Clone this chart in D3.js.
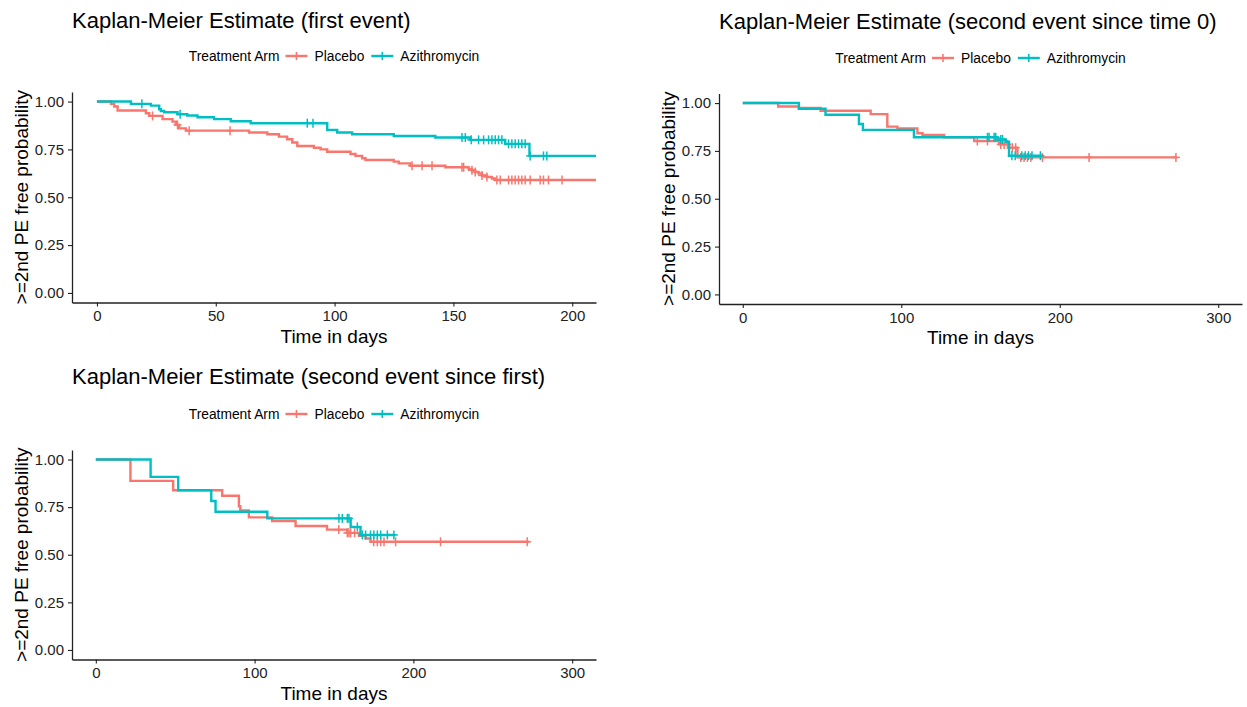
<!DOCTYPE html>
<html>
<head>
<meta charset="utf-8">
<script src="https://cdn.jsdelivr.net/npm/d3@7"></script>
<style>
  body { margin: 0; background: #fff; }
  text { font-family: "Liberation Sans", Arial, sans-serif; }
</style>
</head>
<body>
<div id="km-chart"></div>
<script>
var width = 1247;
var height = 707;

var arms = ['Placebo', 'Azithromycin'];
var armColors = ['#F8766D', '#00BFC4'];
var yTicks = [0, 0.25, 0.5, 0.75, 1];

// first event
var firstPlaceboTime = [0, 5.9, 7.3, 8.7, 20.6, 22, 27.6, 31.8, 33.2, 34.6, 37.4, 64, 71.7, 76.6, 80, 82.2, 84.3, 91.3, 94.1, 96.9, 106.7, 108.8, 111.6, 113, 124.9, 127, 131.9, 146.6, 156.4, 157.8, 159.2, 160.6, 162, 164.1, 166.2, 167.6];
var firstPlaceboSurv = [1, 0.988, 0.974, 0.953, 0.939, 0.925, 0.908, 0.895, 0.878, 0.86, 0.848, 0.838, 0.829, 0.817, 0.803, 0.786, 0.768, 0.759, 0.75, 0.738, 0.726, 0.716, 0.704, 0.695, 0.686, 0.677, 0.665, 0.657, 0.648, 0.641, 0.632, 0.624, 0.614, 0.606, 0.598, 0.59];
var firstPlaceboCensor = [23.4, 33.9, 38.8, 56, 132.6, 136.8, 141, 153.6, 154.3, 157.8, 159.2, 162, 164.1, 168.3, 169.7, 173.2, 174.6, 176, 177.4, 178.8, 180.2, 182.3, 186.5, 187.9, 190, 195.7];
var firstAzithroTime = [0, 14.3, 22.7, 26.2, 26.9, 28.3, 33.9, 38, 42.3, 49.3, 56.3, 64.7, 96.9, 101.1, 107.4, 124.9, 142.4, 157, 171.8, 182];
var firstAzithroSurv = [1, 0.988, 0.979, 0.96, 0.951, 0.944, 0.934, 0.927, 0.918, 0.908, 0.897, 0.887, 0.852, 0.838, 0.829, 0.82, 0.812, 0.8, 0.779, 0.716];
var firstAzithroCensor = [18.9, 35, 88.5, 90.9, 153.6, 155, 157.5, 160.6, 162.7, 164.8, 166.2, 167.6, 169, 170.4, 173.2, 174.6, 176, 177.4, 178.8, 180.2, 182.3, 187.9, 189.3];

// second event since time 0
var secondPlaceboTime = [0, 22.3, 35.4, 49.1, 80.7, 91.2, 97.6, 110.2, 113.4, 127.1, 146, 161.7, 168, 173.3];
var secondPlaceboSurv = [1, 0.982, 0.975, 0.96, 0.942, 0.877, 0.868, 0.842, 0.833, 0.821, 0.802, 0.784, 0.767, 0.716];
var secondPlaceboCensor = [148, 154.4, 162.8, 164.9, 167, 170.1, 172.2, 175.4, 177.5, 179.6, 181.7, 189.1, 218.5, 273.3];
var secondAzithroTime = [0, 35.4, 52.2, 73.3, 75.8, 108, 160.7, 165.9, 168];
var secondAzithroSurv = [1, 0.97, 0.939, 0.891, 0.86, 0.821, 0.81, 0.798, 0.725];
var secondAzithroCensor = [154.4, 155.4, 158.6, 159.6, 162.8, 163.9, 169.8, 171.9, 176.1, 178.2, 180.3, 182.5, 187.8];

// second event since first
var sinceFirstPlaceboTime = [0, 21.8, 48.7, 79.6, 90.1, 91, 96.4, 111, 125.8, 145.6, 158.4, 165.7, 169.9, 173];
var sinceFirstPlaceboSurv = [1, 0.888, 0.839, 0.81, 0.755, 0.733, 0.696, 0.677, 0.651, 0.632, 0.615, 0.6, 0.585, 0.568];
var sinceFirstPlaceboCensor = [153, 158.4, 159.4, 160.5, 163, 175, 177.3, 179.4, 181.5, 188.8, 217.1, 271.7];
var sinceFirstAzithroTime = [0, 34.5, 51.9, 72.7, 75.4, 108, 160.5, 166.7];
var sinceFirstAzithroSurv = [1, 0.909, 0.839, 0.782, 0.726, 0.691, 0.646, 0.604];
var sinceFirstAzithroCensor = [153.1, 155.2, 158.4, 159.4, 164.7, 167.8, 169.9, 173, 175.1, 177.3, 179.4, 183.6, 187.7];

var panels = [
  {
    title: 'Kaplan-Meier Estimate (first event)',
    xDomain: [-10.5, 210], xTicks: [0, 50, 100, 150, 200],
    box: {left: 72, right: 596, top: 92, bottom: 302.5},
    titleY: 28, legendY: 56,
    curves: [
      {time: firstPlaceboTime, surv: firstPlaceboSurv, censor: firstPlaceboCensor, end: 210},
      {time: firstAzithroTime, surv: firstAzithroSurv, censor: firstAzithroCensor, end: 210}
    ]
  },
  {
    title: 'Kaplan-Meier Estimate (second event since time 0)',
    xDomain: [-15, 315], xTicks: [0, 100, 200, 300],
    box: {left: 719, right: 1242, top: 93.5, bottom: 304},
    titleY: 29, legendY: 58,
    curves: [
      {time: secondPlaceboTime, surv: secondPlaceboSurv, censor: secondPlaceboCensor, end: 274},
      {time: secondAzithroTime, surv: secondAzithroSurv, censor: secondAzithroCensor, end: 189}
    ]
  },
  {
    title: 'Kaplan-Meier Estimate (second event since first)',
    xDomain: [-15, 315], xTicks: [0, 100, 200, 300],
    box: {left: 72, right: 596, top: 450, bottom: 659.5},
    titleY: 384, legendY: 414,
    curves: [
      {time: sinceFirstPlaceboTime, surv: sinceFirstPlaceboSurv, censor: sinceFirstPlaceboCensor, end: 272.7},
      {time: sinceFirstAzithroTime, surv: sinceFirstAzithroSurv, censor: sinceFirstAzithroCensor, end: 188.8}
    ]
  }
];

var svg = d3.select('#km-chart').append('svg')
  .attr('width', width)
  .attr('height', height);

function survAt(c, t) {
  var i = d3.bisectRight(c.time, t) - 1;
  return c.surv[Math.max(0, i)];
}

panels.forEach(function(p) {
  var b = p.box;
  var x = d3.scaleLinear().domain(p.xDomain).range([b.left, b.right]);
  var y = d3.scaleLinear().domain([-0.05, 1.05]).range([b.bottom, b.top]);
  var g = svg.append('g');

  // title
  g.append('text')
    .attr('x', b.left)
    .attr('y', p.titleY)
    .style('font-size', '22px')
    .attr('fill', '#000')
    .text(p.title);

  // legend, centred over the plot area
  var leg = g.append('g');
  var cx = 0;
  var lt = leg.append('text').attr('x', cx).attr('y', 0).attr('dy', '0.35em')
    .style('font-size', '13.8px').attr('fill', '#000').text('Treatment Arm');
  cx += lt.node().getComputedTextLength() + 6;
  arms.forEach(function(a, i) {
    leg.append('line').attr('x1', cx).attr('x2', cx + 22).attr('y1', 0).attr('y2', 0)
      .attr('stroke', armColors[i]).attr('stroke-width', 2.4);
    leg.append('line').attr('x1', cx + 11).attr('x2', cx + 11).attr('y1', -4).attr('y2', 4)
      .attr('stroke', armColors[i]).attr('stroke-width', 1.6);
    cx += 29;
    var t = leg.append('text').attr('x', cx).attr('y', 0).attr('dy', '0.35em')
      .style('font-size', '13.8px').attr('fill', '#000').text(a);
    cx += t.node().getComputedTextLength() + 7;
  });
  cx -= 7;
  leg.attr('transform', 'translate(' + ((b.left + b.right) / 2 - cx / 2) + ',' + p.legendY + ')');

  // step curves
  var line = d3.line()
    .x(function(d) { return x(d[0]); })
    .y(function(d) { return y(d[1]); })
    .curve(d3.curveStepAfter);

  p.curves.forEach(function(c, i) {
    var pts = c.time.map(function(t, k) { return [t, c.surv[k]]; });
    pts.push([c.end, c.surv[c.surv.length - 1]]);
    g.append('path')
      .attr('d', line(pts))
      .attr('fill', 'none')
      .attr('stroke', armColors[i])
      .attr('stroke-width', 2.4);

    // censor "+" marks
    var marks = g.append('g').selectAll('g')
      .data(c.censor)
      .enter().append('g')
        .attr('transform', function(t) { return 'translate(' + x(t) + ',' + y(survAt(c, t)) + ')'; });
    marks.append('line').attr('y1', -4.5).attr('y2', 4.5)
      .attr('stroke', armColors[i]).attr('stroke-width', 1.5);
    marks.append('line').attr('x1', -4).attr('x2', 4)
      .attr('stroke', armColors[i]).attr('stroke-width', 1.5);
  });

  // axes
  var xAxis = g.append('g')
    .attr('transform', 'translate(0,' + b.bottom + ')')
    .call(d3.axisBottom(x).tickValues(p.xTicks).tickSize(4).tickSizeOuter(0).tickPadding(4));
  var yAxis = g.append('g')
    .attr('transform', 'translate(' + b.left + ',0)')
    .call(d3.axisLeft(y).tickValues(yTicks).tickFormat(d3.format('.2f')).tickSize(4).tickSizeOuter(0).tickPadding(4));
  [xAxis, yAxis].forEach(function(a) {
    a.select('.domain').attr('stroke', '#222').attr('stroke-width', 1.3);
    a.selectAll('.tick line').attr('stroke', '#222').attr('stroke-width', 1.1);
    a.selectAll('.tick text')
      .style('font-family', '"Liberation Sans", Arial, sans-serif')
      .style('font-size', '15px')
      .attr('fill', '#222');
  });

  // axis titles
  g.append('text')
    .attr('x', (b.left + b.right) / 2)
    .attr('y', b.bottom + 40)
    .attr('text-anchor', 'middle')
    .style('font-size', '19px')
    .attr('fill', '#000')
    .text('Time in days');
  g.append('text')
    .attr('transform', 'translate(' + (b.left - 44) + ',' + ((b.top + b.bottom) / 2) + ') rotate(-90)')
    .attr('text-anchor', 'middle')
    .style('font-size', '19px')
    .attr('fill', '#000')
    .text('>=2nd PE free probability');
});
</script>
</body>
</html>
